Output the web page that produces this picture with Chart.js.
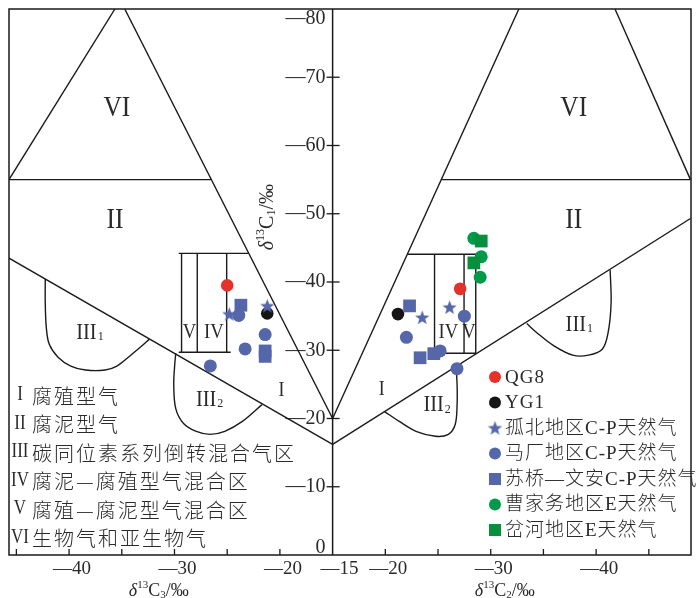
<!DOCTYPE html>
<html>
<head>
<meta charset="utf-8">
<script src="https://cdn.jsdelivr.net/npm/chart.js@4.4.1/dist/chart.umd.min.js"></script>
<style>
  html, body { margin: 0; padding: 0; background: #fff; }
  #wrap { width: 700px; height: 598px; }
</style>
</head>
<body>
<div id="wrap"><canvas id="diagram" width="700" height="598"></canvas></div>
<script>
// left half: δ13C3 vs δ13C1, right half: δ13C2 vs δ13C1 (‰)
const seriesNames = ['QG8', 'YG1', '孤北地区C-P天然气', '马厂地区C-P天然气', '苏桥—文安C-P天然气', '曹家务地区E天然气', '岔河地区E天然气'];

const qg8C3 = [-25.0], qg8C1L = [-39.5];
const qg8C2 = [-27.1], qg8C1R = [-39.0];
const yg1C3 = [-21.2], yg1C1L = [-35.4];
const yg1C2 = [-21.2], yg1C1R = [-35.3];
const gubeiC3 = [-24.8, -21.2], gubeiC1L = [-35.3, -36.5];
const gubeiC2 = [-23.5, -26.1], gubeiC1R = [-34.8, -36.3];
const machangC3 = [-23.9, -21.4, -23.3, -26.6], machangC1L = [-35.1, -32.3, -30.2, -27.7];
const machangC2 = [-27.5, -22.0, -25.2, -26.8], machangC1R = [-35.0, -31.9, -29.9, -27.3];
const suqiaoC3 = [-23.7, -21.4, -21.4], suqiaoC1L = [-36.6, -29.9, -29.1];
const suqiaoC2 = [-22.3, -23.3, -24.6], suqiaoC1R = [-36.5, -28.9, -29.5];
const caojiawuC3 = [], caojiawuC1L = [];
const caojiawuC2 = [-28.4, -29.1, -29.0], caojiawuC1R = [-46.4, -43.7, -40.7];
const chaheC3 = [], chaheC1L = [];
const chaheC2 = [-29.1, -28.4], chaheC1R = [-46.0, -42.8];

// axis ticks
const c1Ticks = [-80, -70, -60, -50, -40, -30, -20, -10, 0];
const c3Ticks = [-45, -40, -35, -30, -25, -20];
const c3Labels = [-40, -30, -20];
const c2Ticks = [-20, -25, -30, -35, -40, -45];
const c2Labels = [-20, -30, -40];

// zone boundaries, left half [δ13C3, δ13C1]
const leftVISide = [[-35.65, -80], [-45.7, -55.0]];
const leftVIBase = [[-45.7, -55.0], [-26.53, -55.0]];
const leftUpper = [[-34.72, -80], [-15, -20]];
const leftLower = [[-45.7, -43.5], [-15, -16.2]];
const leftIII1 = [[-42.26, -40.43], [-42.26, -36.96], [-42.16, -33.33], [-41.88, -30.87], [-41.05, -28.99],
  [-39.84, -27.68], [-38.44, -27.1], [-36.58, -27.1], [-35.47, -27.68], [-34.26, -29.13], [-33.14, -30.58], [-32.4, -31.59]];
const leftIII2 = [[-29.88, -29.57], [-29.98, -27.83], [-30.07, -24.93], [-29.88, -21.45], [-29.14, -19.28],
  [-27.93, -18.12], [-26.63, -17.68], [-25.23, -18.12], [-23.56, -19.57], [-21.7, -22.03]];
const leftBoxTop = [[-29.6, -44.2], [-22.96, -44.2]];
const leftBoxBottom = [[-29.6, -29.7], [-24.67, -29.7]];
const leftBoxCols = [-29.33, -27.84, -25.05];

// zone boundaries, right half [δ13C2, δ13C1]
const rightUpper = [[-32.67, -80], [-15, -20]];
const rightVIBase = [[-25.3, -55.0], [-48.95, -55.0]];
const rightVISide = [[-41.79, -80], [-48.95, -55.0]];
const rightLower = [[-15, -16.2], [-48.95, -49.3]];
const rightIII1 = [[-33.42, -33.91], [-34.35, -32.61], [-35.93, -30.72], [-37.79, -29.28], [-39.28, -29.28],
  [-40.58, -30.14], [-41.14, -32.61], [-41.42, -36.96], [-41.33, -41.74]];
const rightIII2 = [[-19.93, -21.01], [-21.33, -19.57], [-22.91, -18.12], [-24.77, -17.39], [-25.98, -17.68],
  [-26.63, -19.13], [-26.81, -22.03], [-26.81, -24.93], [-26.72, -27.54]];
const rightBoxTop = [[-22.09, -44.06], [-28.6, -44.06]];
const rightBoxBottom = [[-24.67, -29.57], [-28.6, -29.57]];
const rightBoxCols = [-24.67, -27.47, -28.58];

// zone names [numeral, δ, δ13C1, subscript]
const leftZoneTags = [['VI', -35.47, -65.5], ['II', -35.65, -49.1], ['III', -38.35, -32.6, '1'], ['III', -27.0, -22.75, '2'],
  ['I', -19.84, -24.06], ['V', -28.58, -32.6], ['IV', -26.26, -32.6]];
const rightZoneTags = [['VI', -37.88, -65.5], ['II', -37.88, -49.1], ['III', -38.07, -33.8, '1'], ['III', -24.58, -22.0, '2'],
  ['I', -19.65, -24.2], ['IV', -25.98, -32.6], ['V', -27.93, -32.6]];

const zoneNumerals = ['I', 'II', 'III', 'IV', 'V', 'VI'];
const zoneNames = ['腐殖型气', '腐泥型气', '碳同位素系列倒转混合气区', '腐泥—腐殖型气混合区', '腐殖—腐泥型气混合区', '生物气和亚生物气'];

const SERIF = "'Liberation Serif', 'Times New Roman', serif";
const CJK = "'Noto Sans CJK SC', sans-serif";
const ink = '#1a1a1a';
const textInk = '#2a2a2a';

// the right half runs the other way, mirrored about -15
const fold = v => -30 - v;

function starImage(color, r) {
  const c = document.createElement('canvas');
  const s = Math.ceil(r * 2 + 2);
  c.width = s; c.height = s;
  const g = c.getContext('2d');
  g.fillStyle = color;
  g.beginPath();
  for (let i = 0; i < 10; i++) {
    const rad = i % 2 ? r * 0.42 : r;
    const a = -Math.PI / 2 + i * Math.PI / 5;
    g.lineTo(s / 2 + rad * Math.cos(a), s / 2 + rad * Math.sin(a) + r * 0.08);
  }
  g.closePath();
  g.fill();
  return c;
}

const red = '#e5312c', black = '#151515', blue = '#5566a9', green = '#02994a', green2 = '#06903e';
const star = starImage(blue, 7.5);

const series = [
  { c3: qg8C3, c1L: qg8C1L, c2: qg8C2, c1R: qg8C1R, color: red, style: 'circle', r: 6.3 },
  { c3: yg1C3, c1L: yg1C1L, c2: yg1C2, c1R: yg1C1R, color: black, style: 'circle', r: 6.3 },
  { c3: gubeiC3, c1L: gubeiC1L, c2: gubeiC2, c1R: gubeiC1R, color: blue, style: star, r: 7 },
  { c3: machangC3, c1L: machangC1L, c2: machangC2, c1R: machangC1R, color: blue, style: 'circle', r: 6.5 },
  { c3: suqiaoC3, c1L: suqiaoC1L, c2: suqiaoC2, c1R: suqiaoC1R, color: blue, style: 'rect', r: 9 },
  { c3: caojiawuC3, c1L: caojiawuC1L, c2: caojiawuC2, c1R: caojiawuC1R, color: green, style: 'circle', r: 6.5 },
  { c3: chaheC3, c1L: chaheC1L, c2: chaheC2, c1R: chaheC1R, color: green2, style: 'rect', r: 9 }
];
const drawOrder = [4, 3, 0, 5, 1, 6, 2];

const datasets = [];
series.forEach((s, i) => {
  const pts = s.c3.map((v, k) => ({ x: v, y: s.c1L[k] }))
    .concat(s.c2.map((v, k) => ({ x: fold(v), y: s.c1R[k] })));
  datasets.push({
    label: seriesNames[i], data: pts,
    pointStyle: s.style, pointRadius: s.r, pointHoverRadius: s.r,
    backgroundColor: s.color, borderColor: s.color, borderWidth: 0,
    order: drawOrder[i]
  });
});

function boundary(points, right, curved) {
  datasets.push({
    data: points.map(p => ({ x: right ? fold(p[0]) : p[0], y: p[1] })),
    showLine: true, pointRadius: 0, borderColor: ink, borderWidth: 1.4,
    tension: curved ? 0.35 : 0, order: 20
  });
}
[leftVISide, leftVIBase, leftUpper, leftLower, leftBoxTop, leftBoxBottom].forEach(p => boundary(p, false, false));
[leftIII1, leftIII2].forEach(p => boundary(p, false, true));
leftBoxCols.forEach(v => boundary([[v, leftBoxTop[0][1]], [v, leftBoxBottom[0][1]]], false, false));
[rightUpper, rightVIBase, rightVISide, rightLower, rightBoxTop, rightBoxBottom].forEach(p => boundary(p, true, false));
[rightIII1, rightIII2].forEach(p => boundary(p, true, true));
rightBoxCols.forEach(v => boundary([[v, rightBoxTop[0][1]], [v, rightBoxBottom[0][1]]], true, false));

const tickText = v => (v === 0 ? '0' : '\u2014' + Math.abs(v));

function richText(ctx, parts, cx, base) {
  let w = 0;
  parts.forEach(p => { ctx.font = p[1]; p.w = ctx.measureText(p[0]).width; w += p.w; });
  let x = cx - w / 2;
  ctx.textAlign = 'left';
  ctx.textBaseline = 'alphabetic';
  parts.forEach(p => { ctx.font = p[1]; ctx.fillText(p[0], x, base + p[2]); x += p.w; });
}

function titleParts(sub, size) {
  const small = Math.round(size * 0.6);
  return [['δ', 'italic ' + size + 'px ' + SERIF, 0], ['13', small + 'px ' + SERIF, -size * 0.45],
    ['C', size + 'px ' + SERIF, 0], [sub, small + 'px ' + SERIF, size * 0.12], ['/‰', size + 'px ' + SERIF, 0]];
}

function numeral(ctx, text, x, y, size, sub) {
  ctx.save();
  ctx.font = size + 'px ' + SERIF;
  ctx.textAlign = 'center';
  ctx.textBaseline = 'middle';
  const w = ctx.measureText(text).width * 0.85;
  ctx.translate(x, y);
  ctx.scale(0.85, 1);
  ctx.fillText(text, 0, 0);
  ctx.restore();
  if (sub) {
    ctx.font = Math.round(size * 0.5) + 'px ' + SERIF;
    ctx.textAlign = 'left';
    ctx.fillText(sub, x + w / 2 + 1, y + size * 0.32);
  }
}

const tagSize = { VI: 30, II: 30, III: 24, IV: 22, V: 22, I: 21 };

const decor = {
  id: 'decor',
  beforeDatasetsDraw(chart) {
    const { ctx, chartArea: a, scales: { x, y } } = chart;
    const x0 = x.getPixelForValue(-15);
    ctx.save();
    ctx.strokeStyle = ink;
    ctx.fillStyle = textInk;
    ctx.lineWidth = 1.5;
    ctx.strokeRect(a.left, a.top, a.right - a.left, a.bottom - a.top);
    ctx.beginPath();
    ctx.moveTo(x0, a.top); ctx.lineTo(x0, a.bottom);
    ctx.stroke();

    // δ13C1 axis in the middle
    ctx.lineWidth = 1.3;
    ctx.font = '20px ' + SERIF;
    ctx.textAlign = 'right';
    ctx.textBaseline = 'middle';
    c1Ticks.forEach(v => {
      const py = y.getPixelForValue(v);
      if (v !== 0 && v !== -80) {
        ctx.beginPath(); ctx.moveTo(x0 - 6, py); ctx.lineTo(x0 + 7, py); ctx.stroke();
      }
      ctx.fillText(tickText(v), x0 - 7, Math.min(Math.max(py, a.top + 10), a.bottom - 7));
    });

    // bottom axis: δ13C3 to the left, δ13C2 to the right
    const ticks = c3Ticks.concat(c2Ticks.map(fold));
    ticks.forEach(u => {
      const px = x.getPixelForValue(u);
      ctx.beginPath(); ctx.moveTo(px, a.bottom); ctx.lineTo(px, a.bottom - 6); ctx.stroke();
    });
    ctx.font = '19px ' + SERIF;
    ctx.textAlign = 'center';
    c3Labels.forEach(v => ctx.fillText(tickText(v), x.getPixelForValue(v) + 3, a.bottom + 14));
    c2Labels.forEach(v => ctx.fillText(tickText(v), x.getPixelForValue(fold(v)) + 3, a.bottom + 14));
    ctx.fillText(tickText(-15), x0 + 7, a.bottom + 14);

    richText(ctx, titleParts('3', 18), (a.left + x0) / 2 - 12, a.bottom + 41);
    richText(ctx, titleParts('2', 18), x.getPixelForValue(fold(-30)) + 14, a.bottom + 41);
    ctx.save();
    ctx.translate(x0 - 60, y.getPixelForValue(-49.5));
    ctx.rotate(-Math.PI / 2);
    richText(ctx, titleParts('1', 20), 0, 0);
    ctx.restore();

    // zone numerals
    leftZoneTags.forEach(t => numeral(ctx, t[0], x.getPixelForValue(t[1]), y.getPixelForValue(t[2]), tagSize[t[0]], t[3]));
    rightZoneTags.forEach(t => numeral(ctx, t[0], x.getPixelForValue(fold(t[1])), y.getPixelForValue(t[2]), tagSize[t[0]], t[3]));

    // zone key, lower left
    zoneNames.forEach((name, i) => {
      const py = 395 + i * 28.5;
      numeral(ctx, zoneNumerals[i], 20, py, 20);
      ctx.font = '300 20px ' + CJK;
      ctx.letterSpacing = '2px';
      ctx.textAlign = 'left';
      ctx.textBaseline = 'middle';
      ctx.fillText(name, 32, py + 1);
      ctx.letterSpacing = '0px';
    });
    ctx.restore();
  },
  afterDatasetsDraw(chart) {
    const { ctx } = chart;
    ctx.save();
    series.forEach((s, i) => {
      const py = 377 + i * 25.5, px = 495;
      ctx.fillStyle = s.color;
      if (s.style === 'circle') {
        ctx.beginPath(); ctx.arc(px, py, 6, 0, Math.PI * 2); ctx.fill();
      } else if (s.style === 'rect') {
        ctx.fillRect(px - 6, py - 6, 12, 12);
      } else {
        ctx.drawImage(s.style, px - s.style.width / 2, py - s.style.height / 2);
      }
      ctx.fillStyle = textInk;
      ctx.font = '300 19px ' + SERIF + ', ' + CJK;
      ctx.letterSpacing = '1px';
      ctx.textAlign = 'left';
      ctx.textBaseline = 'middle';
      ctx.fillText(seriesNames[i], 505, py + 1);
    });
    ctx.restore();
  }
};

new Chart(document.getElementById('diagram'), {
  type: 'scatter',
  data: { datasets },
  options: {
    responsive: false,
    animation: false,
    events: [],
    layout: { padding: { left: 2, top: 3, right: 3, bottom: 43 } },
    scales: {
      x: { type: 'linear', min: -45.7, max: 19.0, display: false },
      y: { type: 'linear', min: -80, max: 0, reverse: true, display: false }
    },
    plugins: { legend: { display: false }, tooltip: { enabled: false } }
  },
  plugins: [decor]
});
</script>
</body>
</html>
